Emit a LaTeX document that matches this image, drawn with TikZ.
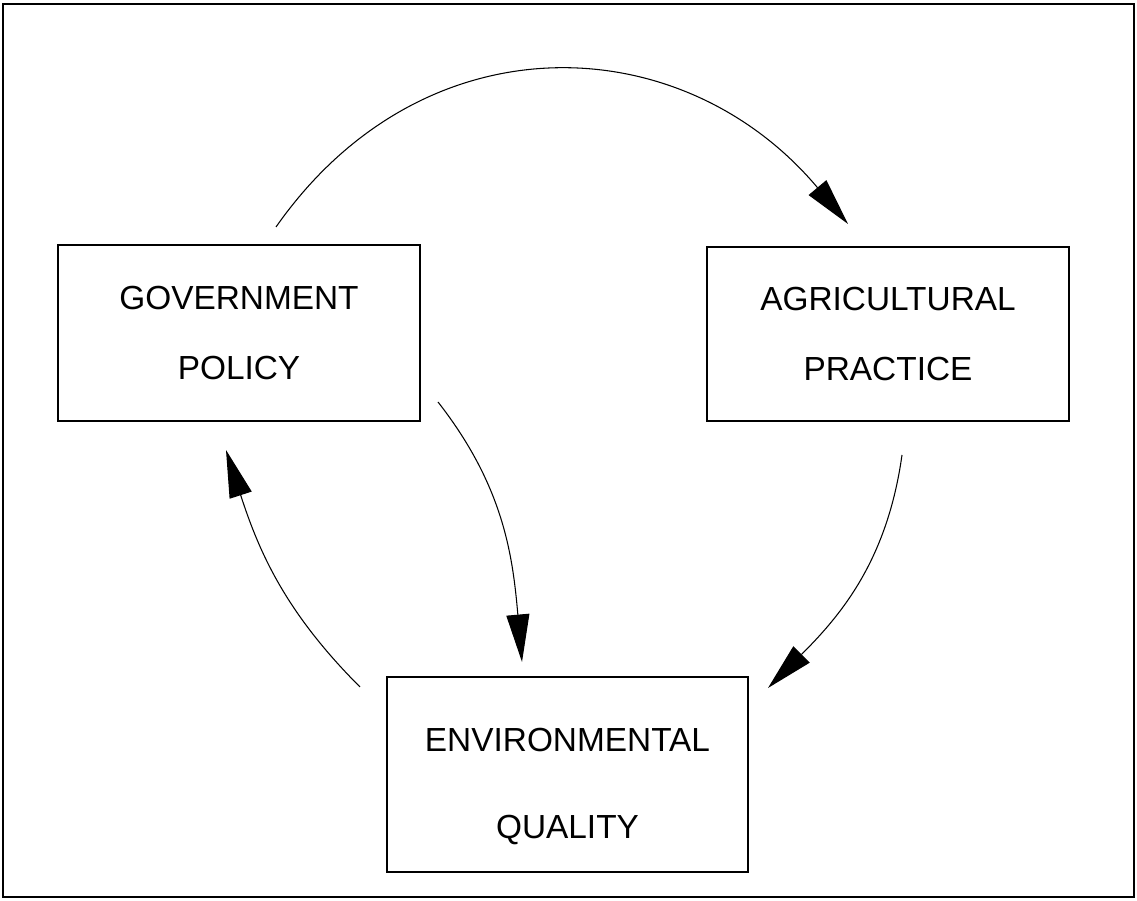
\documentclass[tikz,border=0pt]{standalone}
\usepackage{fontspec}
\setmainfont{Liberation Sans}
\usepackage{tikz}
\usetikzlibrary{positioning}
\usetikzlibrary{arrows.meta}

\begin{document}
\begin{tikzpicture}
	\tikzset{block/.style={rectangle,draw=black,line width=0.8pt,inner sep=0pt,
			align=center,font=\fontsize{19}{23}\selectfont},
		flow/.style={line width=0.6pt,-{Triangle[length=9.5mm,width=4.6mm]}}}

\useasboundingbox (0,0) rectangle (22.74,18.02);
\draw[line width=1.2pt] (0.06,0.08) rectangle (22.68,17.94);

\node[block,minimum width=7.24cm,minimum height=3.52cm] (gov) at (4.78,11.36) {GOVERNMENT\\[17pt]POLICY};
\node[block,minimum width=7.24cm,minimum height=3.48cm] (agr) at (17.76,11.34) {AGRICULTURAL\\[17pt]PRACTICE};
\node[block,minimum width=7.22cm,minimum height=3.90cm] (env) at (11.35,2.53) {\rule{0pt}{27pt}ENVIRONMENTAL\\[27pt]QUALITY};

% free ends of the arrows
\coordinate (gov out1) at (5.52,13.48);
\coordinate (agr in) at (16.96,13.54);
\coordinate (gov out2) at (8.76,9.98);
\coordinate (env in1) at (10.44,4.78);
\coordinate (agr out) at (18.04,8.92);
\coordinate (env in2) at (15.36,4.26);
\coordinate (env out) at (7.20,4.28);
\coordinate (gov in) at (4.52,9.02);

\draw[flow] (gov out1) to [out=55,in=130,looseness=1.15] (agr in);
\draw[flow] (gov out2) to [out=-52,in=95] (env in1);
\draw[flow] (agr out) to [out=-98,in=45] (env in2);
\draw[flow] (env out) to [out=135,in=-72] (gov in);
\end{tikzpicture}
\end{document}
